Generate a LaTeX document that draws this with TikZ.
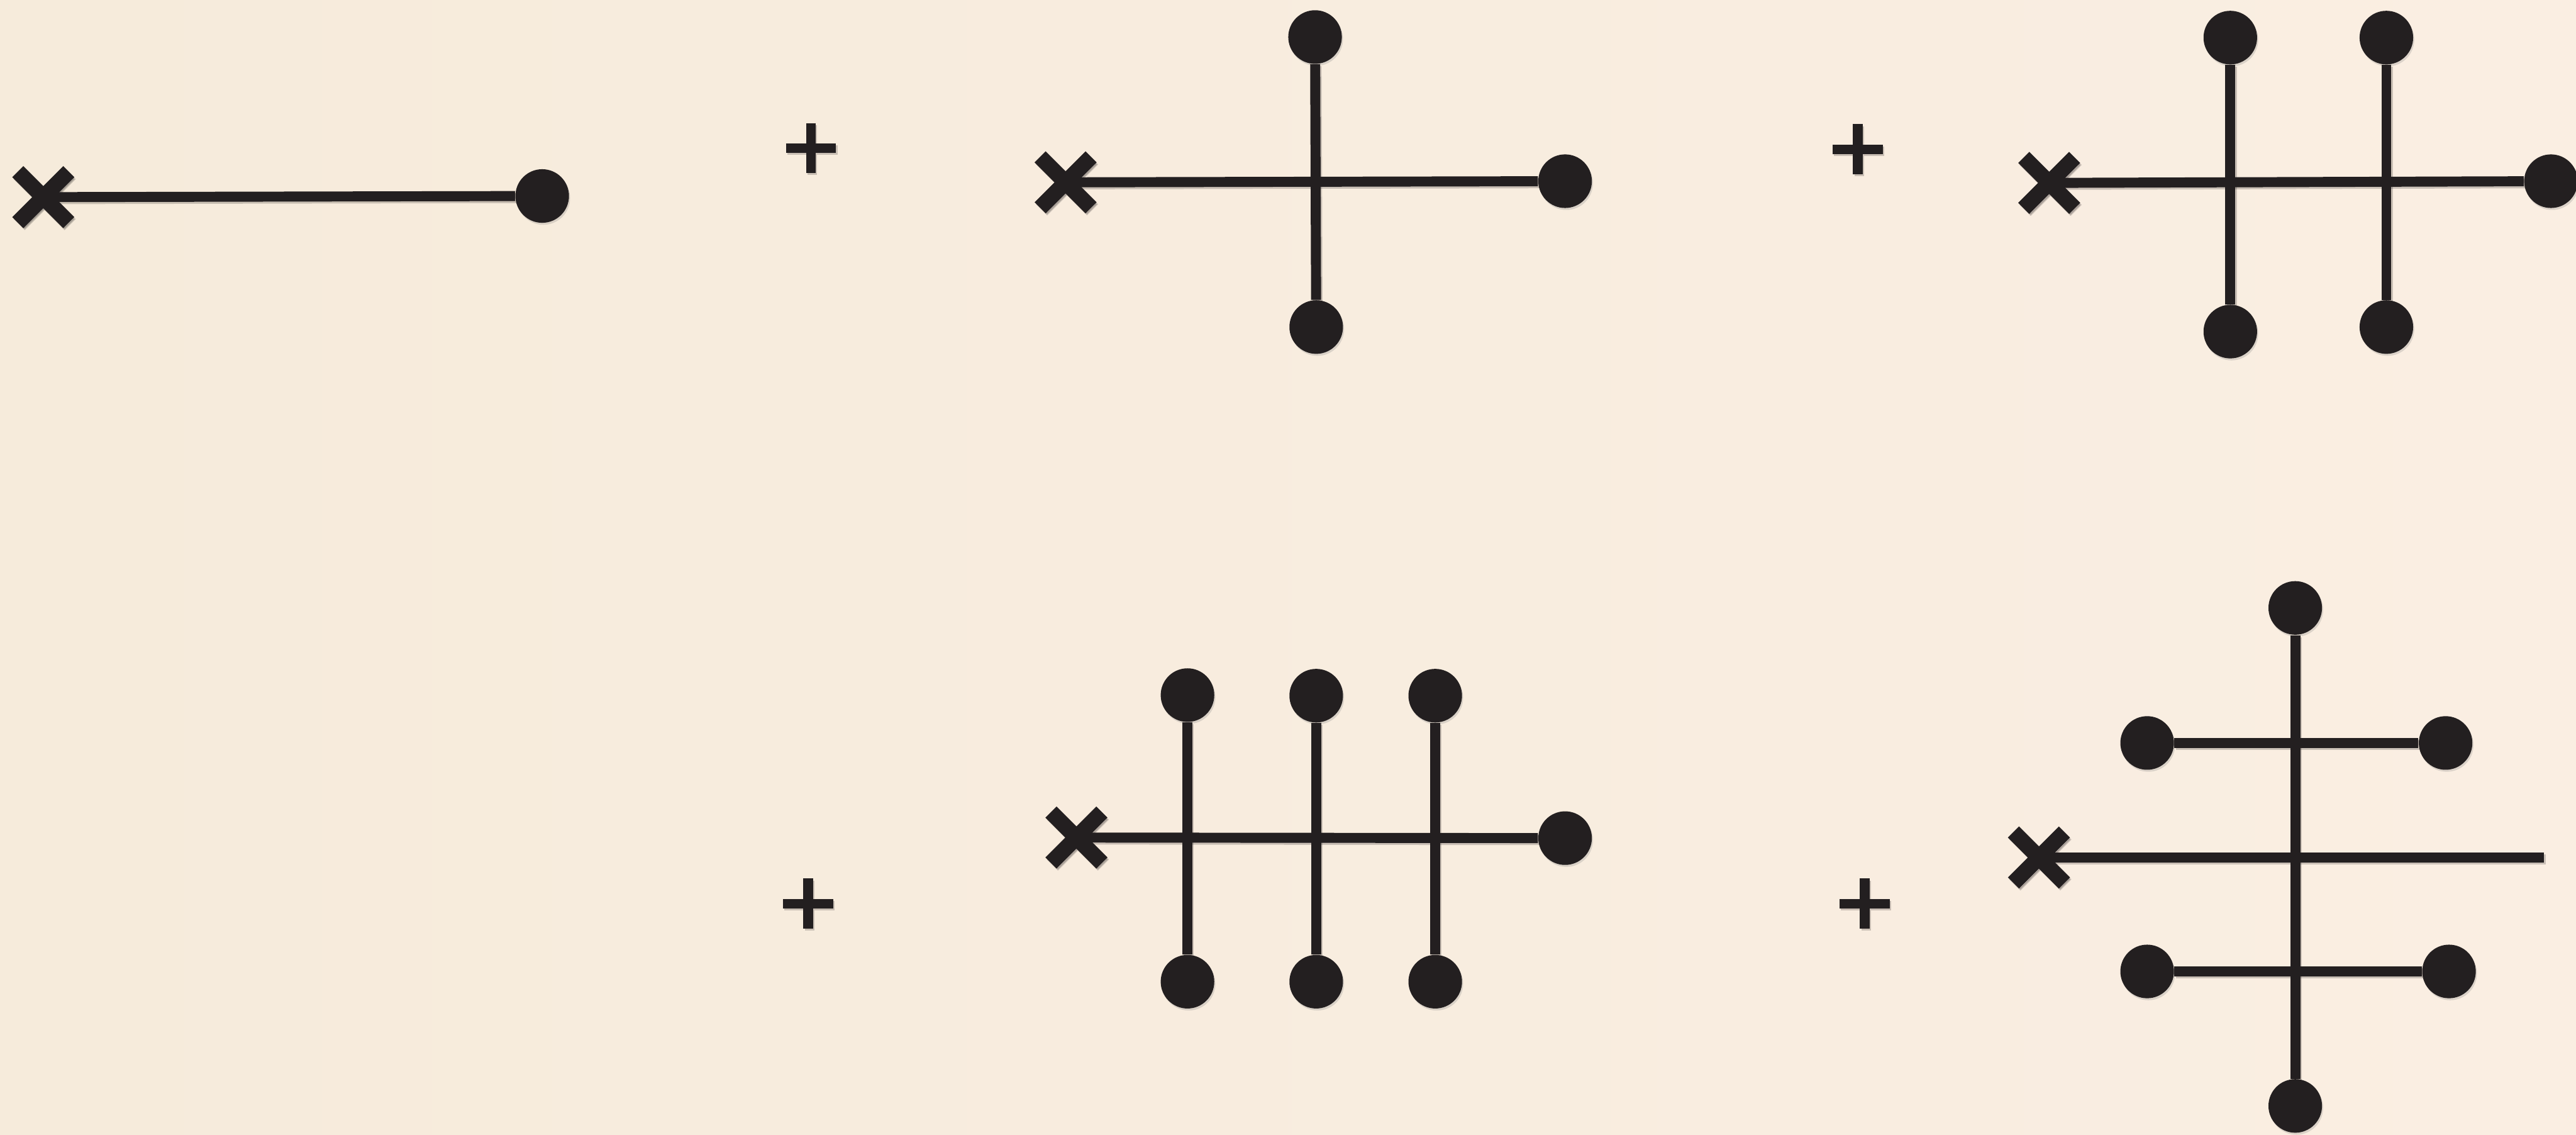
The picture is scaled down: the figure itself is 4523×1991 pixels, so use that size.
\documentclass[tikz,border=0pt]{standalone}
\usetikzlibrary{calc,shadows}
\definecolor{ink}{HTML}{231F20}
\definecolor{bgl}{HTML}{F6EBDB}
\definecolor{bgm}{HTML}{FAF2E8}
\definecolor{bgr}{HTML}{FAEEE2}
\pgfdeclarelayer{bglayer}
\pgfdeclarelayer{shd}
\pgfsetlayers{bglayer,shd,main}
\newcommand\shadowed[2]{%
  \begin{pgfonlayer}{shd}
    \path[#1,opacity=0.22,transform canvas={shift={(0.025cm,-0.035cm)}}] #2;
  \end{pgfonlayer}
  \path[#1] #2;}
\newcommand\conn[2]{\shadowed{stem}{(#1) -- (#2)}}
\newcommand\xcross[1]{\shadowed{xfill}{($(#1)+(52,35)$) -- ($(#1)+(35,52)$) -- ($(#1)+(-52,-35)$) -- ($(#1)+(-35,-52)$) -- cycle
  ($(#1)+(-35,52)$) -- ($(#1)+(-52,35)$) -- ($(#1)+(35,-52)$) -- ($(#1)+(52,-35)$) -- cycle}}
\newcommand\plusmark[1]{\shadowed{plusstroke}{($(#1)+(-44,0)$) -- ($(#1)+(44,0)$) ($(#1)+(0,-44)$) -- ($(#1)+(0,44)$)}}
\begin{document}
\begin{tikzpicture}[x=0.01cm,y=-0.01cm,
  dot/.style={circle,fill=ink,draw=none,minimum size=0.94cm,inner sep=0pt,
    drop shadow={shadow xshift=0.02cm,shadow yshift=-0.035cm,opacity=0.25}},
  xm/.style={coordinate},
  pm/.style={coordinate},
  stem/.style={draw=ink,line width=5pt},
  xfill/.style={fill=ink,draw=ink,line width=1pt,nonzero rule,line join=miter},
  plusstroke/.style={draw=ink,line width=4.8pt,line cap=butt}]
\begin{pgfonlayer}{bglayer}
\shade[left color=bgl,middle color=bgm,right color=bgr] (0,0) rectangle (4523,1991);
\end{pgfonlayer}
\useasboundingbox (0,0) rectangle (4523,1991);

% plus signs
\node[pm] (p1) at (1424,260) {};
\node[pm] (p2) at (3262,262) {};
\node[pm] (p3) at (1419,1586) {};
\node[pm] (p4) at (3274,1586) {};
\plusmark{p1}\plusmark{p2}\plusmark{p3}\plusmark{p4}

% diagram 1
\node[xm] (x1) at (76,346) {};
\node[dot] (a1) at (952,344) {};
\conn{x1}{a1}
\xcross{x1}

% diagram 2
\node[xm] (x2) at (1871,320) {};
\node[dot] (b1) at (2748,318) {};
\node[dot] (b2) at (2309,65) {};
\node[dot] (b3) at (2311,574) {};
\conn{x2}{b1}
\conn{b2}{b3}
\xcross{x2}

% diagram 3
\node[xm] (x3) at (3598,321) {};
\node[dot] (c1) at (4479,318) {};
\node[dot] (c2) at (3916,66) {};
\node[dot] (c3) at (3916,582) {};
\node[dot] (c4) at (4190,66) {};
\node[dot] (c5) at (4190,574) {};
\conn{x3}{c1}
\conn{c2}{c3}
\conn{c4}{c5}
\xcross{x3}

% diagram 4
\node[xm] (x4) at (1890,1470) {};
\node[dot] (d1) at (2748,1471) {};
\node[dot] (d2) at (2085,1220) {};
\node[dot] (d3) at (2085,1723) {};
\node[dot] (d4) at (2311,1221) {};
\node[dot] (d5) at (2311,1723) {};
\node[dot] (d6) at (2520,1221) {};
\node[dot] (d7) at (2520,1723) {};
\conn{x4}{d1}
\conn{d2}{d3}
\conn{d4}{d5}
\conn{d6}{d7}
\xcross{x4}

% diagram 5
\node[xm] (x5) at (3580,1505) {};
\coordinate (e0) at (4467,1505);
\node[dot] (e1) at (4030,1067) {};
\node[dot] (e2) at (4030,1941) {};
\node[dot] (e3) at (3770,1304) {};
\node[dot] (e4) at (4294,1304) {};
\node[dot] (e5) at (3770,1705) {};
\node[dot] (e6) at (4300,1705) {};
\conn{x5}{e0}
\conn{e1}{e2}
\conn{e3}{e4}
\conn{e5}{e6}
\xcross{x5}
\end{tikzpicture}
\end{document}
